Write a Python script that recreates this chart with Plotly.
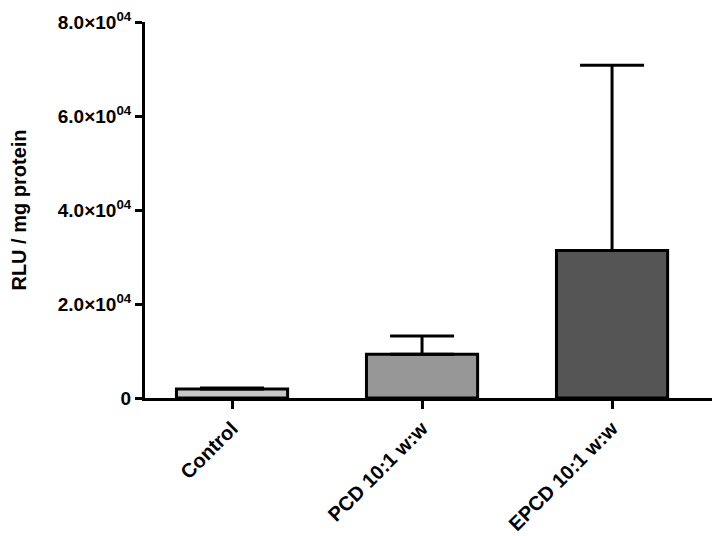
import plotly.graph_objects as go

# data
groups = ["Control", "PCD 10:1 w:w", "EPCD 10:1 w:w"]
means = [1900, 9300, 31400]
sem = [250, 3900, 39400]
colors = ["#c8c8c8", "#979797", "#555555"]

ytickvals = [0, 20000, 40000, 60000, 80000]
yticktext = ["0", "2.0×10<sup>04</sup>", "4.0×10<sup>04</sup>",
             "6.0×10<sup>04</sup>", "8.0×10<sup>04</sup>"]

fig = go.Figure()

fig.add_trace(go.Bar(
    x=[0, 1, 2], y=means, width=0.585,
    marker=dict(color=colors, line=dict(color="black", width=3)),
    error_y=dict(type="data", symmetric=False, array=sem,
                 arrayminus=[0, 0, 0], color="black", thickness=3, width=32),
))

# page body has an 8px margin, so margins are shifted to compensate
fig.update_layout(
    width=724, height=536,
    margin=dict(l=137, r=20, t=14, b=146),
    plot_bgcolor="white", paper_bgcolor="white",
    showlegend=False,
    font=dict(family="Liberation Sans, Arial", color="black"),
)

fig.update_xaxes(
    range=[-0.458, 2.526], automargin=False,
    tickvals=[0, 1, 2], ticktext=groups, tickangle=-45,
    tickfont=dict(size=20, weight="bold"),
    showline=True, linecolor="black", linewidth=3,
    ticks="outside", ticklen=8, tickwidth=3, tickcolor="black",
    showgrid=False, zeroline=False,
)

fig.update_yaxes(
    range=[0, 80000], automargin=False, ticklabeloverflow="allow",
    tickvals=ytickvals, ticktext=yticktext,
    tickfont=dict(size=19, weight="bold"),
    showline=True, linecolor="black", linewidth=3,
    ticks="outside", ticklen=7, tickwidth=3, tickcolor="black",
    showgrid=False, zeroline=False,
    title=dict(text="RLU / mg protein", font=dict(size=20, weight="bold"), standoff=31),
)

fig.write_html("out.html")
